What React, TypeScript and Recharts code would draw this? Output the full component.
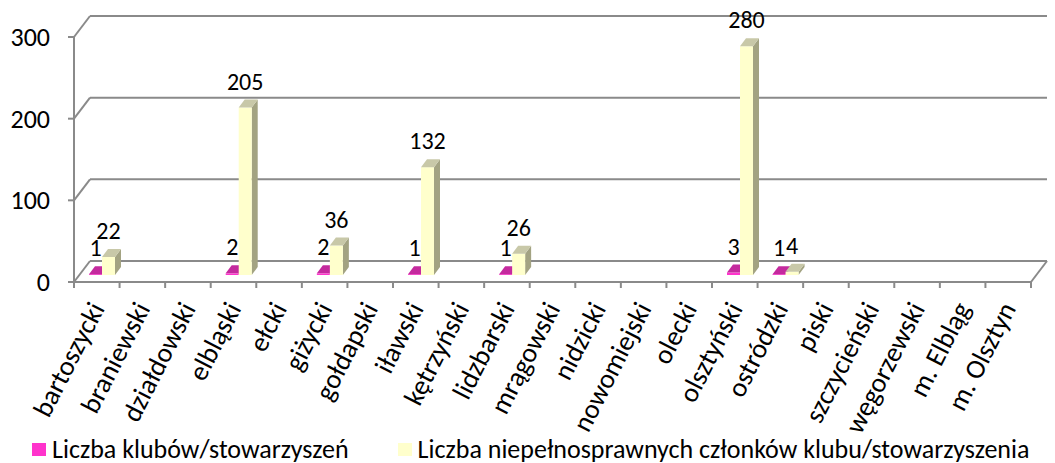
import React from "react";
import { BarChart, Bar, XAxis, YAxis, CartesianGrid, Legend, LabelList } from "recharts";

const counties = [
  "bartoszycki", "braniewski", "działdowski", "elbląski", "ełcki", "giżycki", "gołdapski",
  "iławski", "kętrzyński", "lidzbarski", "mrągowski", "nidzicki", "nowomiejski", "olecki",
  "olsztyński", "ostródzki", "piski", "szczycieński", "węgorzewski", "m. Elbląg", "m. Olsztyn",
];
const clubs = [1, null, null, 2, null, 2, null, 1, null, 1, null, null, null, null, 3, 1, null, null, null, null, null];
const members = [22, null, null, 205, null, 36, null, 132, null, 26, null, null, null, null, 280, 4, null, null, null, null, null];
const valueTicks = [0, 100, 200, 300];

const data = counties.map((name, i) => ({ name, clubs: clubs[i], members: members[i] }));

const FONT = "Carlito, Calibri, Lato, sans-serif";
const GRID = "#8a8a8a";
// fake 3D: back wall offset from the front plane, columns sit in the middle of the floor
const WALL_DX = 16;
const WALL_DY = -21;
const BAR_DX = 5;
const BAR_DY = -7;
const COL_DX = 6;
const COL_DY = -8;

const PINK = { front: "#ff33cc", top: "#c42a9e", side: "#99207a" };
const CREAM = { front: "#ffffcc", top: "#c8c8a8", side: "#a3a382" };

function Column3D(props: any) {
  const { x, y, width, height, colors, val } = props;
  if (val == null) return <g />;
  const x0 = x + BAR_DX;
  const y0 = y + BAR_DY;
  const x1 = x0 + width;
  const y1 = y0 + height;
  return (
    <g>
      <polygon
        points={`${x1},${y0} ${x1 + COL_DX},${y0 + COL_DY} ${x1 + COL_DX},${y1 + COL_DY} ${x1},${y1}`}
        fill={colors.side}
      />
      <rect x={x0} y={y0} width={width} height={Math.max(height, 0.5)} fill={colors.front} />
      <polygon
        points={`${x0},${y0} ${x1},${y0} ${x1 + COL_DX},${y0 + COL_DY} ${x0 + COL_DX},${y0 + COL_DY}`}
        fill={colors.top}
      />
    </g>
  );
}

function renderValue(p: any) {
  if (p.value == null) return null;
  const vb = p.viewBox && p.viewBox.width != null ? p.viewBox : p;
  const cx = vb.x + vb.width / 2 + BAR_DX;
  const top = vb.y + BAR_DY;
  return (
    <text x={cx} y={top - 18} textAnchor="middle" fontFamily={FONT} fontSize={24} fill="#000">
      {p.value}
    </text>
  );
}

function GridLine(p: any) {
  const { x1, x2, y1, y, height } = p;
  const bottom = y + height;
  const isFloor = Math.abs(y1 - bottom) < 1;
  return (
    <g key={p.key ?? `g-${y1}`}>
      <line x1={x1} y1={y1} x2={x1 + WALL_DX} y2={y1 + WALL_DY} stroke={GRID} strokeWidth={2} />
      <line x1={x1 + WALL_DX} y1={y1 + WALL_DY} x2={x2 + WALL_DX} y2={y1 + WALL_DY} stroke={GRID} strokeWidth={2} />
      {isFloor && (
        <line x1={x2} y1={y1} x2={x2 + WALL_DX} y2={y1 + WALL_DY} stroke={GRID} strokeWidth={2} />
      )}
    </g>
  );
}

function ValueTick(p: any) {
  return (
    <text x={p.x} y={p.y} textAnchor="end" dominantBaseline="central" fontFamily={FONT} fontSize={26} fill="#000">
      {p.payload.value}
    </text>
  );
}

function CountyTick(p: any) {
  const { x, y, payload, index, visibleTicksCount, width } = p;
  const half = payload.offset > 0 ? payload.offset : width / visibleTicksCount / 2;
  const last = index === visibleTicksCount - 1;
  return (
    <g>
      <line x1={x - half} y1={y} x2={x - half} y2={y + 6} stroke={GRID} strokeWidth={2} />
      {last && <line x1={x + half} y1={y} x2={x + half} y2={y + 6} stroke={GRID} strokeWidth={2} />}
      <g transform={`translate(${x},${y + 22})`}>
        <text transform="rotate(-63)" textAnchor="end" dominantBaseline="central" fontFamily={FONT} fontSize={27.5} fill="#000">
          {payload.value}
        </text>
      </g>
    </g>
  );
}

function LegendContent(p: any) {
  const items = p.payload || [];
  return (
    <div style={{ display: "flex", alignItems: "center", height: 27, paddingLeft: 32, fontFamily: FONT, fontSize: 26, color: "#000", lineHeight: "27px", whiteSpace: "nowrap" }}>
      {items.map((it: any) => (
        <div key={it.value} style={{ display: "flex", alignItems: "center", marginRight: 49 }}>
          <span style={{ display: "inline-block", width: 14, height: 13, background: it.color, marginRight: 6 }} />
          <span>{it.value}</span>
        </div>
      ))}
    </div>
  );
}

export default function App() {
  return (
    <div style={{ width: 1055, height: 463, background: "#fff" }}>
      <style>{"body{margin:0}"}</style>
      <BarChart
        width={1055}
        height={463}
        data={data}
        margin={{ top: 37, right: 24, left: 0, bottom: 0 }}
        barSize={13}
        barGap={0}
      >
        <CartesianGrid vertical={false} horizontal={(p: any) => <GridLine {...p} />} />
        <XAxis
          dataKey="name"
          interval={0}
          height={181}
          tickLine={false}
          tickSize={0}
          tickMargin={0}
          axisLine={{ stroke: GRID, strokeWidth: 2 }}
          tick={(p: any) => <CountyTick {...p} />}
        />
        <YAxis
          width={74}
          domain={[0, 300]}
          ticks={valueTicks}
          tickSize={6}
          tickMargin={18}
          axisLine={{ stroke: GRID, strokeWidth: 2 }}
          tickLine={{ stroke: GRID, strokeWidth: 2 }}
          tick={(p: any) => <ValueTick {...p} />}
        />
        <Legend
          layout="horizontal"
          verticalAlign="middle"
          align="center"
          wrapperStyle={{ top: 436, left: 0, width: 1055, height: 27 }}
          content={(p: any) => <LegendContent {...p} />}
        />
        <Bar
          dataKey="clubs"
          name="Liczba klubów/stowarzyszeń"
          fill={PINK.front}
          isAnimationActive={false}
          shape={(p: any) => <Column3D {...p} colors={PINK} val={p.payload.clubs} />}
        >
          <LabelList dataKey="clubs" content={renderValue} />
        </Bar>
        <Bar
          dataKey="members"
          name="Liczba niepełnosprawnych członków klubu/stowarzyszenia"
          fill={CREAM.front}
          isAnimationActive={false}
          shape={(p: any) => <Column3D {...p} colors={CREAM} val={p.payload.members} />}
        >
          <LabelList dataKey="members" content={renderValue} />
        </Bar>
      </BarChart>
    </div>
  );
}
